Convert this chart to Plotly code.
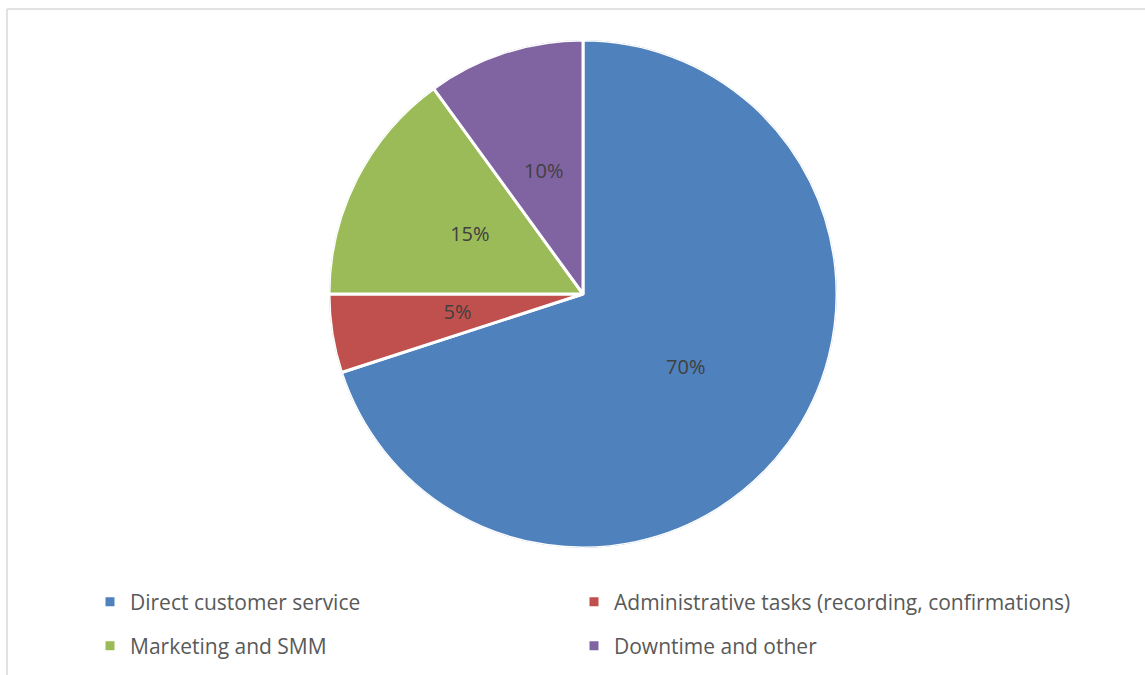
import plotly.graph_objects as go

categories = ["Direct customer service", "Administrative tasks (recording, confirmations)",
              "Marketing and SMM", "Downtime and other"]
values = [70, 5, 15, 10]
colors = ["#4F81BD", "#C0504D", "#9BBB59", "#8064A2"]

W, H = 1145, 675
FONT = "Open Sans"
dom = dict(x=[329 / W, 837 / W], y=[1 - 548 / H, 1 - 40 / H])

total = sum(values)
mid_angles, widths, pct_text = [], [], []
cum = 0
for v in values:
    mid_angles.append((cum + v / 2) / total * 360)
    widths.append(v / total * 360)
    pct_text.append(f"{round(v / total * 100)}%")
    cum += v

fig = go.Figure()
# pie slices drawn as polar wedges (clockwise from 12 o'clock)
for name, th, wd, col in zip(categories, mid_angles, widths, colors):
    fig.add_trace(go.Barpolar(
        r=[1], theta=[th], width=[wd], name=name,
        marker=dict(color=col, line=dict(color="white", width=3)),
        showlegend=False, hovertemplate=name + "<extra></extra>",
    ))

# data labels at half radius along each slice's mid-angle (Excel style)
fig.add_trace(go.Scatterpolar(
    r=[0.5] * len(values), theta=mid_angles, mode="text", text=pct_text,
    textfont=dict(family=FONT, size=20, color="#404040"),
    showlegend=False, hoverinfo="skip",
))

# legend entries: one legend per entry for Excel-like 2x2 layout
legend_pos = [(90, 602), (574, 602), (90, 646), (574, 646)]
legend_names = ["legend", "legend2", "legend3", "legend4"]
for name, col, lname in zip(categories, colors, legend_names):
    fig.add_trace(go.Scatter(x=[None], y=[None], mode="markers", name=name,
                             marker=dict(symbol="square", size=9, color=col),
                             legend=lname, showlegend=True))

layout_legends = {}
for lname, (px, py) in zip(legend_names, legend_pos):
    layout_legends[lname] = dict(
        x=px / W, y=1 - py / H, xanchor="left", yanchor="middle",
        font=dict(family=FONT, size=21, color="#595959"),
        bgcolor="rgba(0,0,0,0)", borderwidth=0, itemclick=False,
    )

fig.update_layout(
    width=W, height=H, margin=dict(l=0, r=0, t=0, b=0),
    paper_bgcolor="white", plot_bgcolor="white",
    xaxis=dict(visible=False), yaxis=dict(visible=False),
    polar=dict(
        domain=dom, bgcolor="rgba(0,0,0,0)", bargap=0,
        angularaxis=dict(direction="clockwise", rotation=90, visible=False),
        radialaxis=dict(range=[0, 1], visible=False),
    ),
    shapes=[
        dict(type="line", xref="paper", yref="paper", x0=7 / W, x1=1, y0=1 - 9 / H, y1=1 - 9 / H,
             line=dict(color="#D9D9D9", width=1.5)),
        dict(type="line", xref="paper", yref="paper", x0=7 / W, x1=7 / W, y0=0, y1=1 - 9 / H,
             line=dict(color="#D9D9D9", width=1.5)),
    ],
    **layout_legends,
)

fig.write_html("out.html")
